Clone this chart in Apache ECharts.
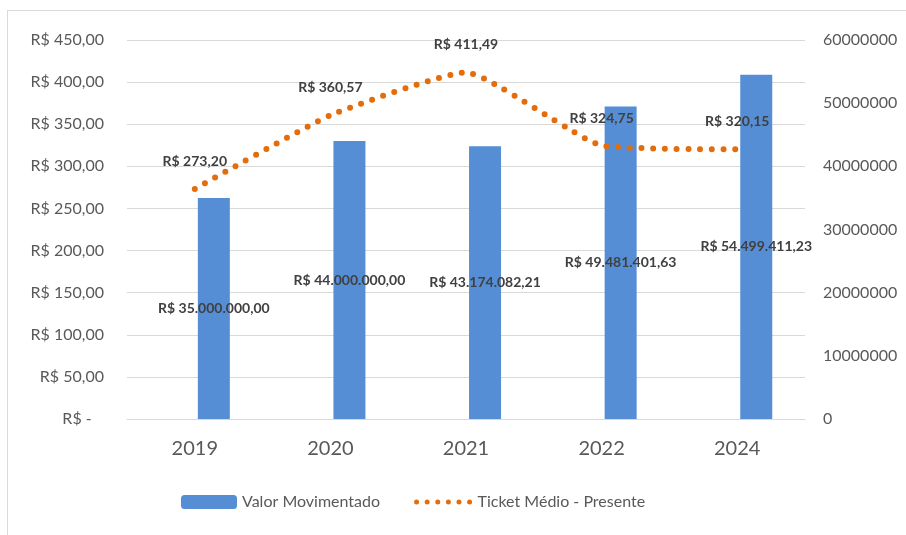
<!DOCTYPE html>
<html>
<head>
<meta charset="utf-8">
<script src="https://cdn.jsdelivr.net/npm/echarts@6/dist/echarts.min.js"></script>
<style>
  html, body { margin: 0; padding: 0; background: #fff; }
  #frame {
    position: absolute; left: 7px; top: 10px; width: 1000px; height: 1000px;
    border-left: 1px solid #d9d9d9; border-top: 1px solid #d9d9d9;
  }
  #main { position: absolute; left: 0; top: 0; width: 906px; height: 535px; }
</style>
</head>
<body>
<div id="frame"></div>
<div id="main"></div>
<script>
var anos = ["2019", "2020", "2021", "2022", "2024"];
var valorMovimentado = [35000000, 44000000, 43174082.21, 49481401.63, 54499411.23];
var ticketMedio = [273.20, 360.57, 411.49, 324.75, 320.15];
var ticksReais = [0, 50, 100, 150, 200, 250, 300, 350, 400, 450];
var ticksValor = [0, 10000000, 20000000, 30000000, 40000000, 50000000, 60000000];

var fonte = "Lato, 'Open Sans', sans-serif";
var cinzaTexto = "#595959";
var cinzaLabel = "#404040";
var laranja = "#e46c0a";

// formata numero no padrao brasileiro: 1.234.567,89
function brl(v) {
  var partes = v.toFixed(2).split(".");
  var inteiro = partes[0].replace(/\B(?=(\d{3})+(?!\d))/g, ".");
  return "R$ " + inteiro + "," + partes[1];
}

var myChart = echarts.init(document.getElementById("main"));

var option = {
  animation: false,
  textStyle: { fontFamily: fonte },
  grid: { left: 127, right: 101, top: 40, bottom: 116 },
  legend: {
    bottom: 20,
    left: 176,
    itemWidth: 56,
    itemHeight: 14,
    itemGap: 34,
    textStyle: { fontSize: 16, color: cinzaTexto, fontFamily: fonte },
    data: [
      "Valor Movimentado",
      {
        name: "Ticket Médio - Presente",
        lineStyle: { width: 5, type: [0, 10.6], cap: "round", color: laranja }
      }
    ]
  },
  xAxis: {
    type: "category",
    data: anos,
    axisTick: { show: false },
    axisLine: { lineStyle: { color: "#d9d9d9", width: 1 } },
    axisLabel: { fontSize: 20, color: cinzaTexto, margin: 20, fontFamily: fonte }
  },
  yAxis: [
    {
      type: "value",
      min: ticksReais[0],
      max: ticksReais[ticksReais.length - 1],
      interval: 50,
      axisLine: { show: false },
      axisTick: { show: false },
      splitLine: { lineStyle: { color: "#d9d9d9", width: 1 } },
      axisLabel: {
        fontSize: 16,
        color: cinzaTexto,
        margin: 23,
        fontFamily: fonte,
        formatter: function(v) {
          if (v === 0) return "R$ -   ";
          return "R$ " + v.toFixed(2).replace(".", ",");
        }
      }
    },
    {
      type: "value",
      min: ticksValor[0],
      max: ticksValor[ticksValor.length - 1],
      interval: 10000000,
      axisLine: { show: false },
      axisTick: { show: false },
      splitLine: { show: false },
      axisLabel: {
        fontSize: 16,
        color: cinzaTexto,
        margin: 18,
        fontFamily: fonte,
        formatter: function(v) { return String(v); }
      }
    }
  ],
  series: [
    // serie vazia so para deslocar as barras como no Excel
    {
      name: "espaco",
      type: "bar",
      yAxisIndex: 1,
      barWidth: 32,
      barGap: "19%",
      silent: true,
      data: anos.map(function() { return null; })
    },
    {
      name: "Valor Movimentado",
      type: "bar",
      yAxisIndex: 1,
      barWidth: 32,
      barGap: "19%",
      itemStyle: { color: "#558ed5" },
      label: {
        show: true,
        position: "inside",
        color: cinzaLabel,
        fontSize: 14,
        fontWeight: "bold",
        fontFamily: fonte,
        formatter: function(p) { return brl(p.value); }
      },
      data: valorMovimentado
    },
    {
      name: "Ticket Médio - Presente",
      type: "line",
      yAxisIndex: 0,
      smooth: 0.15,
      symbol: "circle",
      symbolSize: 1,
      itemStyle: { color: "rgba(0,0,0,0)" },
      lineStyle: { color: laranja, width: 6, type: [0, 11.7], cap: "round" },
      label: {
        show: true,
        position: "top",
        distance: 20,
        color: cinzaLabel,
        fontSize: 14,
        fontWeight: "bold",
        fontFamily: fonte,
        formatter: function(p) { return brl(p.value); }
      },
      data: ticketMedio
    }
  ]
};

myChart.setOption(option);
</script>
</body>
</html>
